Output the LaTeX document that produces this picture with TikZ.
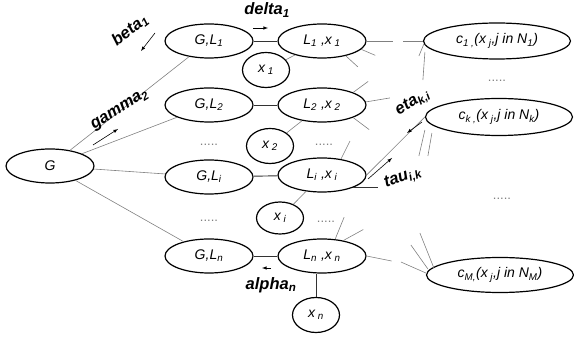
\documentclass[tikz,border=0pt]{standalone}
\usepackage{fontspec}
\setmainfont{Liberation Sans}
\usetikzlibrary{shapes.geometric}

\begin{document}
\begin{tikzpicture}[x=1pt,y=-1pt,
  oval/.style={ellipse,draw=black,line width=1.2pt,inner sep=0pt,
    minimum width=88pt,minimum height=34pt,font=\fontsize{14}{16}\selectfont\itshape},
  small oval/.style={oval,minimum width=47pt,minimum height=35pt},
  wide oval/.style={oval,minimum width=147pt,minimum height=36pt},
  link/.style={draw=gray,line width=0.6pt},
  bar/.style={draw=black!80,line width=0.9pt},
  lbl/.style={inner sep=0pt,font=\fontsize{16.5}{18}\selectfont\bfseries\itshape},
  dots/.style={text=gray,font=\fontsize{13}{15}\selectfont},
  tip/.style={-latex,line width=0.6pt}]

\useasboundingbox (0,0) rectangle (574,339);

% left column
\node[oval] (G) at (50,166) {G};
\node[oval] (GL1) at (209,41)  {G,L\textsubscript{1}};
\node[oval] (GL2) at (209,105) {G,L\textsubscript{2}};
\node[oval] (GLi) at (209,177) {G,L\textsubscript{i}};
\node[oval] (GLn) at (209,256) {G,L\textsubscript{n}};
\node[dots] (d1) at (209,145) {.....};
\node[dots] (d2) at (209,221) {.....};

% middle column
\node[oval] (L1x1) at (322,41)  {L\textsubscript{1} ,x\textsubscript{ 1}};
\node[oval] (L2x2) at (322,105) {L\textsubscript{2} ,x\textsubscript{ 2}};
\node[oval] (Lixi) at (322,175) {L\textsubscript{i} ,x\textsubscript{ i}};
\node[oval] (Lnxn) at (322,256) {L\textsubscript{n} ,x\textsubscript{ n}};
\node[small oval] (x1) at (266,70)  {x\textsubscript{ 1}};
\node[small oval] (x2) at (270,146) {x\textsubscript{ 2}};
\node[small oval,minimum height=32pt] (xi) at (280,218) {x\textsubscript{ i}};
\node[small oval] (xn) at (316,315) {x\textsubscript{ n}};
\node[dots] (d3) at (324,145) {.....};
\node[dots] (d4) at (326,222) {.....};

% right column
\node[wide oval] (c1) at (497,41)  {c\textsubscript{1 ,}(x\textsubscript{ j},j in N\textsubscript{1})};
\node[wide oval,minimum height=37pt] (ck) at (499,117) {c\textsubscript{k ,}(x\textsubscript{ j},j in N\textsubscript{k})};
\node[wide oval,minimum height=35pt] (cM) at (500,275) {c\textsubscript{M,}(x\textsubscript{ j},j in N\textsubscript{M})};
\node[dots] (d5) at (497,81)  {.....};
\node[dots] (d6) at (502,199) {.....};

% links
\foreach \n in {GL1,GL2,GLi,GLn}
  \draw[link] (G) -- (\n);
\draw[bar] (GL1) -- (L1x1);
\draw[bar] (GL2) -- (L2x2);
\draw[bar] (GLi) -- (Lixi);
\draw[bar] (GLn) -- (Lnxn);
\draw[link] (x1) -- (L1x1);
\draw[link] (x2) -- (L2x2);
\draw[link] (xi) -- (Lixi);
\draw[bar] (xn.north) -- (xn.north |- Lnxn.south);
\draw[link] (Lixi.east) -- (ck.west);

% loose ends
\draw[link] (L1x1.east) -- ++(26,0);
\draw[link] (L1x1.-12) -- ++(14,6);
\draw[link] (L1x1.-32) -- ++(12,11);
\draw[link] (c1.west) -- ++(-20,0);
\draw[link] ([shift={(1,3)}]c1.west) -- ++(-5,12);
\draw[link] ([shift={(2,11)}]c1.west) -- ++(-2,28);
\draw[link] (L2x2.22) -- ++(15,-11);
\draw[link] (L2x2.4) -- ++(24,-4);
\draw[link] (L2x2.-22) -- ++(16,12);
\draw[link] ([shift={(0,13)}]ck.west) -- ++(-6,26);
\draw[link] ([shift={(7,16)}]ck.west) -- ++(-4,23);
\draw[link] (Lixi.40) -- ++(9,-18);
\draw[bar] (Lixi.-22) -- ++(25,0);
\draw[link] (Lnxn.52) -- ++(9,-22);
\draw[link] (Lnxn.36) -- ++(20,-11);
\draw[link] (Lnxn.east) -- ++(25,5);
\draw[link] ([shift={(0,-2)}]cM.west) -- ++(-25,-11);
\draw[link] ([shift={(2,-6)}]cM.west) -- ++(-17,-24);
\draw[link] ([shift={(8,-7)}]cM.west) -- ++(-14,-35);

% message arrows
\draw[tip] (155,33) -- (141,51);
\draw[tip] (93,145) -- (118,129);
\draw[tip] (253,28) -- (268,28);
\draw[tip] (271,268) -- (262,268);
\draw[tip] (422,122) -- (407,133);
\draw[tip] (368,179) -- (392,158);
\node[lbl,rotate=38] (beta) at (130,30) {beta\textsubscript{1}};
\node[lbl,rotate=32] (gamma) at (120,110) {gamma\textsubscript{2}};
\node[lbl] (delta) at (267,10) {delta\textsubscript{1}};
\node[lbl] (alpha) at (271,285) {alpha\textsubscript{n}};
\node[lbl,rotate=32] (eta) at (413,103) {eta\textsubscript{k,i}};
\node[lbl,rotate=20] (tau) at (403,178) {tau\textsubscript{i,k}};
\end{tikzpicture}
\end{document}
